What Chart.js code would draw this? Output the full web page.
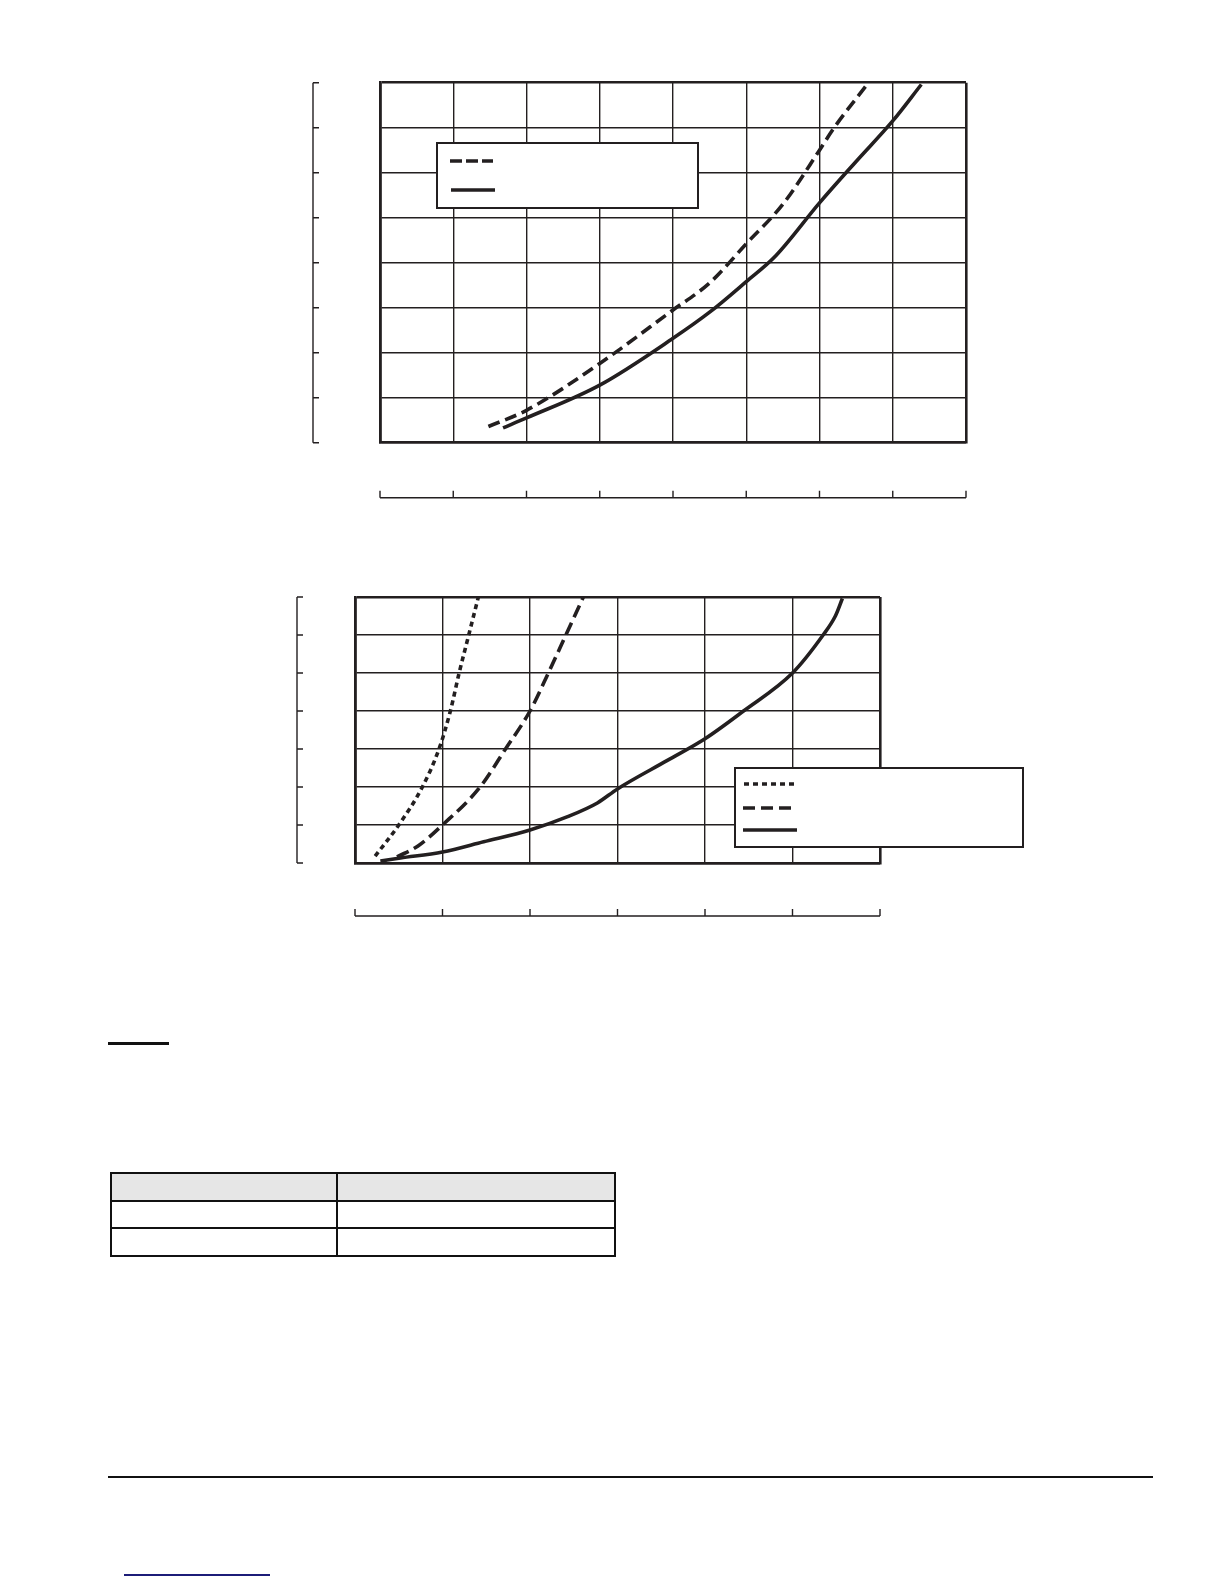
<!DOCTYPE html>
<html>
<head>
<meta charset="utf-8">
<script src="https://cdn.jsdelivr.net/npm/chart.js@4.4.1/dist/chart.umd.min.js"></script>
<style>
    body { margin: 0; background: #fff; width: 1224px; height: 1584px; position: relative; overflow: hidden; }
    .box { position: absolute; }
    #under1 { position: absolute; left: 108px; top: 1042px; width: 61px; height: 3px; background: #111; }
    #rule { position: absolute; left: 108px; top: 1476px; width: 1045px; height: 2px; background: #111; }
    #link { position: absolute; left: 124px; top: 1574px; width: 146px; height: 2px; background: #1c1c78; }
    table { position: absolute; left: 110px; top: 1172px; border-collapse: collapse; }
    td { border: 2px solid #111; height: 25.6px; padding: 0; }
    tr.head td { background: #e6e6e6; }
</style>
</head>
<body>

<div class="box" style="left:290px; top:62px; width:700px; height:460px;"><canvas id="chart1"></canvas></div>
<div class="box" style="left:270px; top:575px; width:770px; height:360px;"><canvas id="chart2"></canvas></div>

<div id="under1"></div>
<table>
    <tr class="head"><td style="width:224px"></td><td style="width:276px"></td></tr>
    <tr><td></td><td></td></tr>
    <tr><td></td><td></td></tr>
</table>
<div id="rule"></div>
<div id="link"></div>

<script>
// chart 1 (upper), grid units 0..8 on both axes
const c1DashedX = [1.48, 2.0, 3.0, 4.0, 4.5, 5.0, 5.5, 6.0, 6.2, 6.64];
const c1DashedY = [0.36, 0.72, 1.76, 2.95, 3.55, 4.42, 5.3, 6.5, 7.0, 7.94];
const c1SolidX = [1.68, 2.0, 3.0, 4.0, 4.5, 5.0, 5.4, 6.0, 6.5, 7.0, 7.39];
const c1SolidY = [0.33, 0.55, 1.28, 2.32, 2.9, 3.58, 4.15, 5.33, 6.25, 7.15, 7.96];

// chart 2 (lower), x 0..6, y 0..7
const c2DottedX = [0.23, 0.5, 0.77, 0.96, 1.09, 1.19, 1.3, 1.41];
const c2DottedY = [0.18, 1, 2, 3, 4, 5, 6, 7];
const c2DashedX = [0.48, 0.72, 1.0, 1.43, 1.72, 2.0, 2.21, 2.41, 2.61];
const c2DashedY = [0.16, 0.45, 1, 2, 3, 4, 5, 6, 7];
const c2SolidX = [0.29, 0.52, 1.0, 1.47, 2.0, 2.43, 2.77, 3.0, 3.57, 4.0, 4.44, 5.0, 5.35, 5.49, 5.57];
const c2SolidY = [0.05, 0.13, 0.29, 0.56, 0.87, 1.22, 1.58, 1.95, 2.7, 3.27, 4.0, 5.0, 6.0, 6.5, 6.96];

const ink = '#231f20';

function pts(xs, ys) {
    return xs.map((x, i) => ({ x: x, y: ys[i] }));
}

function curve(xs, ys, dash) {
    return {
        data: pts(xs, ys),
        borderColor: ink,
        borderWidth: 3.6,
        borderDash: dash,
        pointRadius: 0,
        cubicInterpolationMode: 'monotone',
        showLine: true,
        fill: false,
    };
}

function gridScale(max) {
    return {
        type: 'linear',
        min: 0,
        max: max,
        ticks: { display: false, stepSize: 1 },
        border: { display: true, color: ink, width: 2.6 },
        grid: {
            color: ink,
            drawTicks: false,
            lineWidth: (c) => (c.tick && (c.tick.value == 0 || c.tick.value == max)) ? 2.6 : 1.4,
        },
        afterFit: (s) => { if (s.isHorizontal()) s.height = 0; else s.width = 0; },
    };
}

// loose axis lines beside the plot, ticks taken from the scales
function looseAxes(dx, dy) {
    return {
        id: 'looseAxes',
        afterDraw(chart) {
            let ctx = chart.ctx;
            let a = chart.chartArea;
            let xs = chart.scales.x, ys = chart.scales.y;
            ctx.save();
            ctx.strokeStyle = ink;
            ctx.lineWidth = 1.4;
            let lx = a.left - dx;
            ctx.beginPath();
            ctx.moveTo(lx, a.top);
            ctx.lineTo(lx, a.bottom);
            ys.ticks.forEach((t) => {
                let py = ys.getPixelForValue(t.value);
                ctx.moveTo(lx, py);
                ctx.lineTo(lx + 6, py);
            });
            let by = a.bottom + dy;
            ctx.moveTo(a.left, by);
            ctx.lineTo(a.right, by);
            xs.ticks.forEach((t) => {
                let px = xs.getPixelForValue(t.value);
                ctx.moveTo(px, by);
                ctx.lineTo(px, by - 7);
            });
            ctx.stroke();
            ctx.restore();
        }
    };
}

// framed legend with line samples only
function legendBox(box, samples) {
    return {
        id: 'legendBox',
        afterDraw(chart) {
            let ctx = chart.ctx;
            ctx.save();
            ctx.fillStyle = '#fff';
            ctx.fillRect(box[0], box[1], box[2] - box[0], box[3] - box[1]);
            ctx.strokeStyle = ink;
            ctx.lineWidth = 2;
            ctx.strokeRect(box[0], box[1], box[2] - box[0], box[3] - box[1]);
            ctx.lineWidth = 3.6;
            samples.forEach((s) => {
                ctx.setLineDash(s.dash);
                ctx.beginPath();
                ctx.moveTo(s.x0, s.y);
                ctx.lineTo(s.x1, s.y);
                ctx.stroke();
            });
            ctx.restore();
        }
    };
}

const baseOpts = {
    responsive: true,
    maintainAspectRatio: false,
    animation: false,
    plugins: { legend: { display: false }, tooltip: { enabled: false } },
};

var chart1 = new Chart(document.getElementById('chart1'), {
    type: 'scatter',
    data: {
        datasets: [
            curve(c1DashedX, c1DashedY, [12, 6]),
            curve(c1SolidX, c1SolidY, []),
        ]
    },
    options: Object.assign({}, baseOpts, {
        layout: { padding: { left: 90, top: 20.7, right: 24, bottom: 79.3 } },
        scales: { x: gridScale(8), y: gridScale(8) },
    }),
    plugins: [
        looseAxes(67, 55),
        legendBox([147, 81, 408, 146], [
            { x0: 160, x1: 203, y: 99, dash: [12, 4] },
            { x0: 161, x1: 205, y: 128, dash: [] },
        ]),
    ]
});

var chart2 = new Chart(document.getElementById('chart2'), {
    type: 'scatter',
    data: {
        datasets: [
            curve(c2DottedX, c2DottedY, [5, 4]),
            curve(c2DashedX, c2DashedY, [13, 6]),
            curve(c2SolidX, c2SolidY, []),
        ]
    },
    options: Object.assign({}, baseOpts, {
        layout: { padding: { left: 85, top: 22, right: 160, bottom: 72 } },
        scales: { x: gridScale(6), y: gridScale(7) },
    }),
    plugins: [
        looseAxes(58, 53),
        legendBox([465, 193, 753, 272], [
            { x0: 474, x1: 528, y: 209, dash: [5, 4] },
            { x0: 473, x1: 527, y: 233, dash: [12, 6] },
            { x0: 473, x1: 527, y: 255, dash: [] },
        ]),
    ]
});
</script>
</body>
</html>
